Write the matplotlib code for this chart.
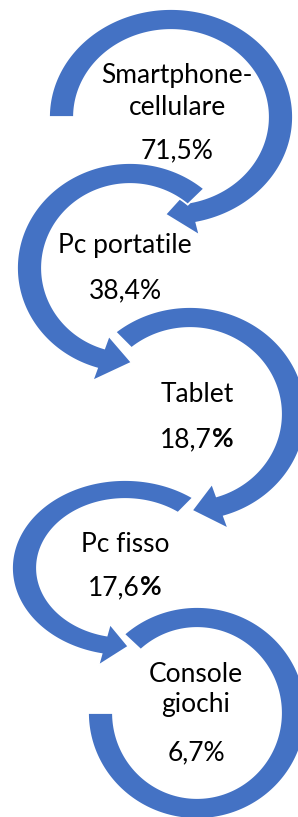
import numpy as np
import matplotlib
matplotlib.use("Agg")
import matplotlib.pyplot as plt
from matplotlib.patches import Polygon

# ---- data ----
labels = ["Smartphone-\ncellulare", "Pc portatile", "Tablet", "Pc fisso", "Console\ngiochi"]
values = ["71,5", "38,4", "18,7", "17,6", "6,7"]
bold_pct = [False, False, True, True, False]

# ---- geometry (pixel space, y down) ----
# cx, cy, rx_outer, ry_outer, start angle, end angle, tip angle (None = no head)
arcs = [
    (171, 117, 122, 108, 180, -78, -93),
    (130, 268, 113, 105, 49, 253, 271),
    (190, 414, 116, 107, 130, -73, -89),
    (125, 568, 113, 88, 53, 258, 272),
    (197, 713, 109, 106, 132, -180, None),
]
text_pos = [  # x centre, baseline of first label line, line step, baseline of value
    (177, 83, 32, 158),
    (125, 253, 32, 298),
    (197, 402, 32, 447),
    (125, 552, 32, 595),
    (196, 682, 30, 760),
]
TX, TY = 25, 21
EXT = 0.62
BLUE = "#4472C4"

W, H = 298, 817
fig = plt.figure(figsize=(W / 100, H / 100), dpi=100)
ax = fig.add_axes([0, 0, 1, 1])
ax.set_xlim(0, W)
ax.set_ylim(H, 0)
ax.axis("off")


def pt(cx, cy, rx, ry, t):
    r = np.deg2rad(t)
    return (cx + rx * np.cos(r), cy - ry * np.sin(r))


for (cx, cy, rxo, ryo, t1, t2, tip) in arcs:
    ty = TY if ryo > 95 else 19
    rxi, ryi = rxo - TX, ryo - ty
    ts = np.linspace(t1, t2, 200)
    outer = [pt(cx, cy, rxo, ryo, t) for t in ts]
    inner = [pt(cx, cy, rxi, ryi, t) for t in ts[::-1]]
    pts = list(outer)
    if tip is not None:
        pts.append(pt(cx, cy, rxo + EXT * TX, ryo + EXT * ty, t2))
        pts.append(pt(cx, cy, (rxo + rxi) / 2, (ryo + ryi) / 2, tip))
        pts.append(pt(cx, cy, rxi - EXT * TX, ryi - EXT * ty, t2))
    pts += inner
    ax.add_patch(Polygon(pts, closed=True, facecolor=BLUE, edgecolor="white",
                         linewidth=1.3, joinstyle="miter"))

FONT = "Lato"
FS = 19
pairs = []
for lab, val, b, (x, yb, step, yv) in zip(labels, values, bold_pct, text_pos):
    for i, line in enumerate(lab.split("\n")):
        ax.text(x, yb + i * step, line, ha="center", va="baseline",
                fontsize=FS, family=FONT, color="black")
    if b:
        tn = ax.text(x, yv, val, ha="left", va="baseline", fontsize=FS,
                     family=FONT, color="black")
        tb = ax.text(x, yv, "%", ha="left", va="baseline", fontsize=FS,
                     family=FONT, color="black", fontweight="bold")
        pairs.append((tn, tb, x, yv))
    else:
        ax.text(x, yv, val + "%", ha="center", va="baseline",
                fontsize=FS, family=FONT, color="black")

fig.canvas.draw()
r = fig.canvas.get_renderer()
for tn, tb, x, yv in pairs:
    wn = tn.get_window_extent(r).width
    wb = tb.get_window_extent(r).width
    x0 = x - (wn + wb) / 2
    tn.set_position((x0, yv))
    tb.set_position((x0 + wn, yv))

fig.savefig("out.png", dpi=100)
